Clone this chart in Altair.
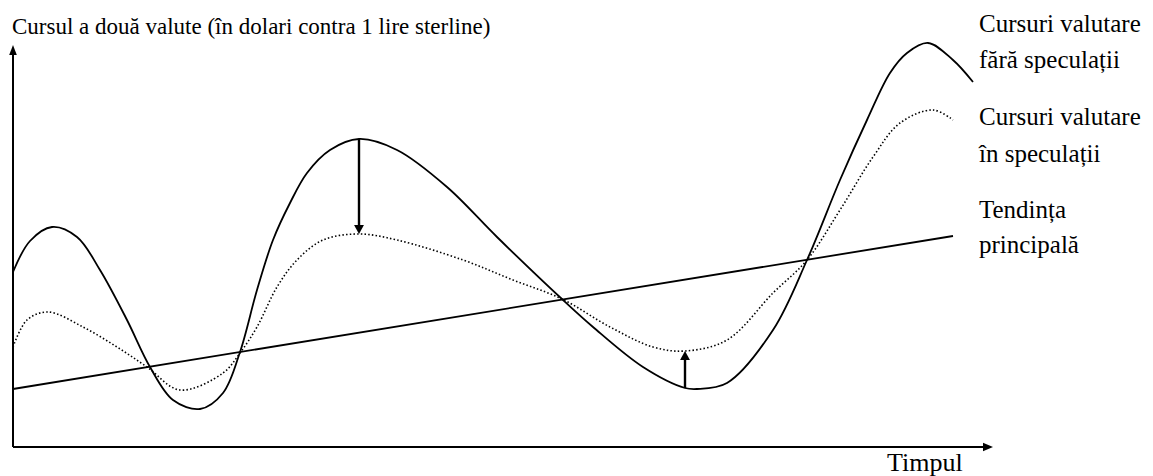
import altair as alt
import pandas as pd

# Time (x) and exchange rate (y), arbitrary units
solid_t = [0, 1.7, 3.9, 6.4, 8.7, 11.4, 13.7, 16.0, 18.7, 21.0, 22.7, 24.4, 26.0, 27.7, 29.4,
           31.7, 34.6, 38.4, 43.4, 48.4, 55.0, 58.0, 63.0, 67.2, 68.4, 71.4, 76.0, 79.4,
           82.7, 85.4, 87.7, 89.4, 91.5, 94.0, 96.0]
solid_v = [17.5, 20.6, 22.0, 21.0, 17.7, 12.7, 8.0, 4.7, 3.8, 5.4, 9.5, 15.7, 20.7, 24.4, 27.4,
           29.7, 30.8, 29.7, 26.0, 21.0, 14.7, 12.0, 8.0, 5.9, 5.8, 6.4, 11.7, 18.7,
           26.7, 32.7, 37.4, 39.4, 40.4, 38.7, 36.5]

spec_t = [0, 1.4, 3.5, 7.0, 10.4, 13.4, 16.7, 21.0, 22.7, 24.4, 26.4, 28.4, 31.0, 34.6, 38.4,
          45.0, 50.0, 54.9, 59.7, 64.0, 67.2, 71.4, 76.0, 79.4, 82.7, 86.0, 88.7, 92.0, 94.0]
spec_v = [10.0, 12.7, 13.5, 12.0, 10.0, 8.0, 5.7, 7.4, 9.4, 12.0, 16.0, 18.7, 20.7, 21.3, 20.7,
          18.7, 16.7, 14.8, 12.0, 10.0, 9.6, 10.7, 15.4, 18.7, 23.7, 29.0, 32.4, 33.7, 32.7]

trend_t = [0, 94.0]
trend_v = [5.8, 21.1]

# Speculation effect arrows: (time, from, to)
arrow_t = [34.6, 67.2]
arrow_from = [30.8, 5.9]
arrow_to = [21.3, 9.6]

axis_x_end = 98.0
axis_y_end = 40.2

title_text = "Cursul a două valute (în dolari contra 1 lire sterline)"
x_title = "Timpul"
label_lines = ["Cursuri valutare", "fără speculații", "Cursuri valutare",
               "în speculații", "Tendința", "principală"]
label_v = [41.5, 37.9, 32.2, 28.5, 22.9, 19.4]
label_t = 96.6

FONT = "Liberation Serif"

xs = alt.Scale(domain=[-0.5, 113.2], nice=False, zero=False)
ys = alt.Scale(domain=[-2.9, 43.9], nice=False, zero=False)

def X(f="t"):
    return alt.X(f"{f}:Q", scale=xs, axis=None)

def Y(f="v"):
    return alt.Y(f"{f}:Q", scale=ys, axis=None)

solid_df = pd.DataFrame({"t": solid_t, "v": solid_v})
spec_df = pd.DataFrame({"t": spec_t, "v": spec_v})
trend_df = pd.DataFrame({"t": trend_t, "v": trend_v})

solid = alt.Chart(solid_df).mark_line(color="black", strokeWidth=1.8, interpolate="catmull-rom").encode(
    x=X(), y=Y(), order="t:Q")
spec = alt.Chart(spec_df).mark_line(color="black", strokeWidth=1.6, strokeDash=[1.5, 2.2],
                                    interpolate="catmull-rom").encode(x=X(), y=Y(), order="t:Q")
trend = alt.Chart(trend_df).mark_line(color="black", strokeWidth=1.8).encode(x=X(), y=Y())

# axes drawn as arrows
axes_df = pd.DataFrame({"t": [0, 0], "v": [0, 0], "t2": [0, axis_x_end - 0.7], "v2": [axis_y_end - 0.7, 0]})
axes = alt.Chart(axes_df).mark_rule(color="black", strokeWidth=2).encode(
    x=X(), y=Y(), x2="t2:Q", y2="v2:Q")
yhead = alt.Chart(pd.DataFrame({"t": [0], "v": [axis_y_end]})).mark_point(
    shape="M0,0L-0.38,1L0.38,1Z", size=400, filled=True, color="black", opacity=1).encode(x=X(), y=Y())
xhead = alt.Chart(pd.DataFrame({"t": [axis_x_end], "v": [0]})).mark_point(
    shape="M0,0L-1,-0.42L-1,0.42Z", size=400, filled=True, color="black", opacity=1).encode(x=X(), y=Y())

# speculation arrows
arr_df = pd.DataFrame({"t": arrow_t, "v": arrow_from, "v2": [arrow_to[0] + 0.8, arrow_to[1] - 0.8]})
arr = alt.Chart(arr_df).mark_rule(color="black", strokeWidth=2.4).encode(x=X(), y=Y(), y2="v2:Q")
down_head = alt.Chart(pd.DataFrame({"t": [arrow_t[0]], "v": [arrow_to[0]]})).mark_point(
    shape="M0,0L-0.55,-1L0.55,-1Z", size=324, filled=True, color="black", opacity=1).encode(x=X(), y=Y())
up_head = alt.Chart(pd.DataFrame({"t": [arrow_t[1]], "v": [arrow_to[1]]})).mark_point(
    shape="M0,0L-0.55,1L0.55,1Z", size=324, filled=True, color="black", opacity=1).encode(x=X(), y=Y())

title = alt.Chart(pd.DataFrame({"t": [-0.1], "v": [41.3], "s": [title_text]})).mark_text(
    font=FONT, fontSize=23, align="left", baseline="alphabetic", color="black").encode(
    x=X(), y=Y(), text="s:N")
xt = alt.Chart(pd.DataFrame({"t": [87.4], "v": [-2.4], "s": [x_title]})).mark_text(
    font=FONT, fontSize=26, align="left", baseline="alphabetic", color="black").encode(
    x=X(), y=Y(), text="s:N")
labels = alt.Chart(pd.DataFrame({"t": [label_t] * len(label_lines), "v": label_v, "s": label_lines})).mark_text(
    font=FONT, fontSize=25, align="left", baseline="alphabetic", color="black").encode(
    x=X(), y=Y(), text="s:N")

chart = alt.layer(trend, spec, solid, axes, yhead, xhead, arr, down_head, up_head, title, xt, labels).properties(
    width=1137, height=468, padding=0, autosize=alt.AutoSizeParams(type="none"),
    background="white"
).configure_view(stroke=None)

chart.save("out.html", embed_options={"renderer": "svg", "actions": False})
